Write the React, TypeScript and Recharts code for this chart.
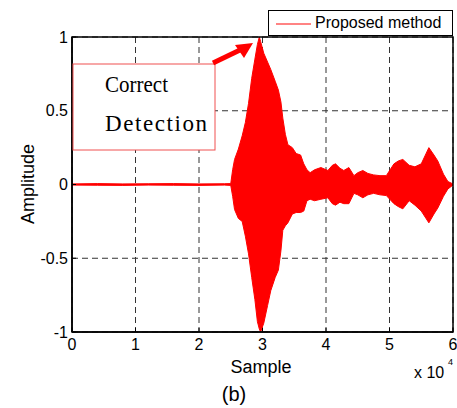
import React from 'react';
import {
  ComposedChart, Area, XAxis, YAxis, CartesianGrid, ReferenceArea,
} from 'recharts';

// ── Data (envelope of the detected signal) ───
const SAMPLES = [
  0, 4000, 8000, 12000, 16000, 20000, 24000, 25000, 25300, 25600,
  26200, 26800, 27300, 27800, 28300, 28800, 29200, 29500, 29700, 30200,
  30800, 31300, 32000, 32500, 32900, 33200, 33600, 34000, 34700, 35300,
  36000, 36500, 37000, 37500, 38200, 39200, 40300, 41000, 41500, 42200,
  42800, 43600, 44400, 45000, 45800, 46600, 47500, 48500, 49500, 50700,
  51400, 52100, 53100, 54000, 55000, 56200, 57000, 57600, 58500, 59200, 60000,
];
const UPPER = [
  0.004, 0.006, 0.004, 0.005, 0.006, 0.004, 0.005, 0.006, 0.10, 0.17,
  0.24, 0.33, 0.42, 0.55, 0.72, 0.85, 0.95, 1.0, 0.97, 0.89,
  0.83, 0.78, 0.70, 0.64, 0.56, 0.45, 0.34, 0.27, 0.25, 0.21,
  0.20, 0.14, 0.10, 0.08, 0.10, 0.115, 0.095, 0.13, 0.14, 0.11,
  0.095, 0.115, 0.06, 0.08, 0.095, 0.075, 0.065, 0.06, 0.06, 0.14,
  0.16, 0.17, 0.13, 0.12, 0.14, 0.25, 0.20, 0.16, 0.07, 0.02, 0.004,
];
const LOWER = [
  -0.004, -0.005, -0.006, -0.004, -0.005, -0.006, -0.004, -0.006, -0.08, -0.17,
  -0.23, -0.25, -0.35, -0.47, -0.63, -0.78, -0.93, -0.98, -1.0, -0.94,
  -0.82, -0.72, -0.63, -0.58, -0.45, -0.31, -0.28, -0.26, -0.20, -0.19,
  -0.19, -0.18, -0.11, -0.10, -0.11, -0.10, -0.09, -0.13, -0.14, -0.12,
  -0.13, -0.13, -0.06, -0.07, -0.09, -0.07, -0.06, -0.07, -0.075, -0.13,
  -0.15, -0.165, -0.11, -0.14, -0.18, -0.26, -0.20, -0.16, -0.08, -0.03, -0.004,
];
const X_TICKS = [0, 10000, 20000, 30000, 40000, 50000, 60000];
const Y_TICKS = [-1, -0.5, 0, 0.5, 1];
const SERIES_NAME = 'Proposed method';

const data = SAMPLES.map((s, i) => ({ sample: s, range: [LOWER[i], UPPER[i]] }));

const SANS = '"Liberation Sans", Arial, Helvetica, sans-serif';
const SERIF = '"Liberation Serif", "Times New Roman", serif';
const tickStyle = { fontSize: 16, fill: '#000', fontFamily: SANS };

// ── Legend box (top right) ──────────────────────────────────────
function LegendBox() {
  return (
    <div style={{
      position: 'absolute', left: 268, top: 10,
      width: 185, height: 26, border: '1px solid #000', background: '#fff',
      boxSizing: 'border-box', display: 'flex', alignItems: 'center',
      fontFamily: SANS, fontSize: 16, color: '#000',
    }}>
      <svg width={46} height={23}>
        <line x1={7} y1={12} x2={42} y2={12} stroke="#ff5a5a" strokeWidth={1.5} />
      </svg>
      <span>{SERIES_NAME}</span>
    </div>
  );
}

export default function App() {
  return (
    <div style={{ position: 'absolute', left: 0, top: 0, width: 457, height: 408, background: '#fff' }}>
      <ComposedChart
        width={457}
        height={408}
        data={data}
        margin={{ top: 37, right: 4, bottom: 46, left: 32 }}
      >
        <CartesianGrid stroke="#333" strokeDasharray="6 4" />
        <XAxis
          dataKey="sample"
          type="number"
          domain={[0, 60000]}
          ticks={X_TICKS}
          tickFormatter={(v: number) => String(v / 10000)}
          tick={tickStyle}
          tickSize={-4}
          tickMargin={11}
          height={30}
          axisLine={{ stroke: '#000', strokeWidth: 1.5 }}
          tickLine={{ stroke: '#000' }}
        />
        <YAxis
          type="number"
          domain={[-1, 1]}
          ticks={Y_TICKS}
          tick={tickStyle}
          tickSize={-4}
          tickMargin={8}
          width={40}
          axisLine={{ stroke: '#000', strokeWidth: 1.5 }}
          tickLine={{ stroke: '#000' }}
        />
        <Area
          type="linear"
          dataKey="range"
          name={SERIES_NAME}
          stroke="#ff0000"
          strokeWidth={1}
          fill="#ff0000"
          fillOpacity={1}
          dot={false}
          activeDot={false}
          isAnimationActive={false}
        />
        <ReferenceArea x1={0} x2={60000} y1={-1} y2={1} fill="none" stroke="#000" strokeWidth={1.5} />
      </ComposedChart>

      <LegendBox />

      {/* annotation, axis titles and caption */}
      <svg width={457} height={408} style={{ position: 'absolute', left: 0, top: 0, pointerEvents: 'none' }}>
        <rect x={73} y={64} width={142} height={86} fill="#fff" stroke="#f05050" strokeWidth={1} />
        <text x={105} y={92} fontFamily={SERIF} fontSize={23} fill="#000" textLength={63} lengthAdjust="spacingAndGlyphs">Correct</text>
        <text x={105} y={131} fontFamily={SERIF} fontSize={23} fill="#000" textLength={102} lengthAdjust="spacing">Detection</text>
        <line x1={213} y1={63} x2={240} y2={50} stroke="#ff0000" strokeWidth={5} />
        <polygon points="235,45 253,43 244,58" fill="#ff0000" />

        <text x={261} y={373} textAnchor="middle" fontFamily={SANS} fontSize={18} fill="#000">Sample</text>
        <text x={0} y={0} transform="translate(34,184) rotate(-90)" textAnchor="middle" fontFamily={SANS} fontSize={18} fill="#000">Amplitude</text>
        <text x={414} y={378} fontFamily={SANS} fontSize={16} fill="#000">x 10</text>
        <text x={448} y={365} fontFamily={SANS} fontSize={9} fill="#000">4</text>
        <text x={234} y={401} textAnchor="middle" fontFamily={SANS} fontSize={20} fill="#000">(b)</text>
      </svg>
    </div>
  );
}
